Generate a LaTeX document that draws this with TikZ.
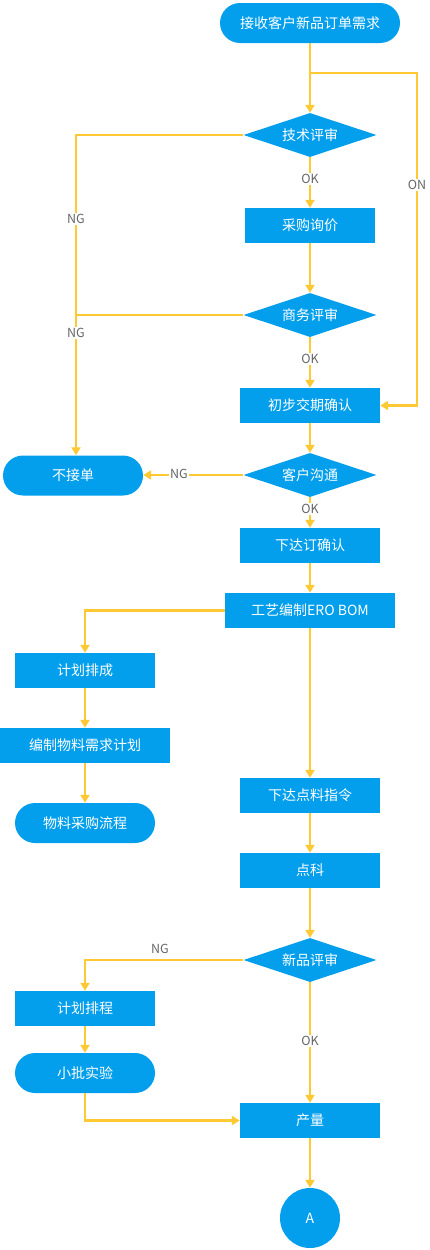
\documentclass[tikz,border=0pt]{standalone}
\usepackage{fontspec}
\setmainfont{Noto Sans CJK SC}
\usetikzlibrary{shapes.geometric,arrows.meta}
\definecolor{boxblue}{HTML}{039FEC}
\definecolor{lineyellow}{HTML}{FFC933}
\definecolor{lblgray}{HTML}{666666}
\tikzset{
  box/.style={fill=boxblue,text=white,font=\fontsize{14}{16}\selectfont,minimum width=140pt,minimum height=35pt,inner sep=0pt},
  term/.style={box,rounded corners=20pt,minimum height=40pt},
  decide/.style={diamond,aspect=3,fill=boxblue,text=white,font=\fontsize{14}{16}\selectfont,minimum width=133pt,minimum height=44pt,inner sep=0pt},
  flow/.style={draw=lineyellow,line width=2.5pt,-{Triangle[width=9pt,length=8pt,fill=lineyellow]}},
  lbl/.style={fill=white,text=lblgray,font=\fontsize{12.5}{14}\selectfont,inner sep=1.5pt}
}
\begin{document}
\begin{tikzpicture}[x=1pt,y=-1pt]
  \useasboundingbox (0,0) rectangle (430,1250);
  % main column
  \node[term,minimum width=180pt] (start) at (310,23) {接收客户新品订单需求};
  \node[decide] (tech) at (310,135) {技术评审};
  \node[box,minimum width=130pt] (quote) at (310,225.5) {采购询价};
  \node[decide] (biz) at (310,315) {商务评审};
  \node[box] (date) at (310,405.5) {初步交期确认};
  \node[decide] (talk) at (310,475) {客户沟通};
  \node[term] (reject) at (73,475.5) {不接单};
  \node[box] (order) at (310,545.5) {下达订确认};
  \node[box,minimum width=170pt] (bom) at (310,610.5) {工艺编制ERO BOM};
  \node[box] (issue) at (310,795.5) {下达点料指令};
  \node[box] (pick) at (310,870.5) {点科};
  \node[decide] (newrev) at (310,960) {新品评审};
  \node[box] (output) at (310,1120.5) {产量};
  \node[circle,fill=boxblue,text=white,minimum size=60pt,inner sep=0pt,font=\fontsize{14}{16}\selectfont] (end) at (310,1218) {A};
  % left column
  \node[box] (plan) at (85,670.5) {计划排成};
  \node[box,minimum width=170pt] (mrp) at (85,745.5) {编制物料需求计划};
  \node[term] (buy) at (85,823) {物料采购流程};
  \node[box] (sched) at (85,1008.5) {计划排程};
  \node[term] (trial) at (85,1073) {小批实验};
  \coordinate (split) at (310,73);
  \coordinate (on) at (417,73);
  \coordinate (ng) at (76,135);
  % connectors
  \draw[flow] (start) -- (tech);
  \draw[flow] (split) -- (on) -- (on |- date.east) -- (date.east);
  \draw[flow] (tech.west) -- (ng) -- (ng |- reject.north);
  \draw[flow] (tech) -- (quote);
  \draw[flow] (quote) -- (biz);
  \draw[draw=lineyellow,line width=2.5pt] (biz.west) -- (ng |- biz.west);
  \draw[flow] (biz) -- (date);
  \draw[flow] (date) -- (talk);
  \draw[flow] (talk.west) -- (talk.west -| reject.east);
  \draw[flow] (talk) -- (order);
  \draw[flow] (order) -- (bom);
  \draw[flow] (bom.west) -| (plan.north);
  \draw[flow] (plan) -- (mrp);
  \draw[flow] (mrp) -- (buy);
  \draw[flow] (bom) -- (issue);
  \draw[flow] (issue) -- (pick);
  \draw[flow] (pick) -- (newrev);
  \draw[flow] (newrev.west) -| (sched.north);
  \draw[flow] (sched) -- (trial);
  \draw[flow] (trial.south) |- (output.west);
  \draw[flow] (newrev) -- (output);
  \draw[flow] (output) -- (end);
  % labels
  \node[lbl] at (417,185) {ON};
  \node[lbl] at (76,219) {NG};
  \node[lbl] at (76,333) {NG};
  \node[lbl] at (310,179) {OK};
  \node[lbl] at (310,359) {OK};
  \node[lbl] at (179,474) {NG};
  \node[lbl] at (310,509) {OK};
  \node[lbl,fill=none] at (160,949) {NG};
  \node[lbl] at (310,1041) {OK};
\end{tikzpicture}
\end{document}
